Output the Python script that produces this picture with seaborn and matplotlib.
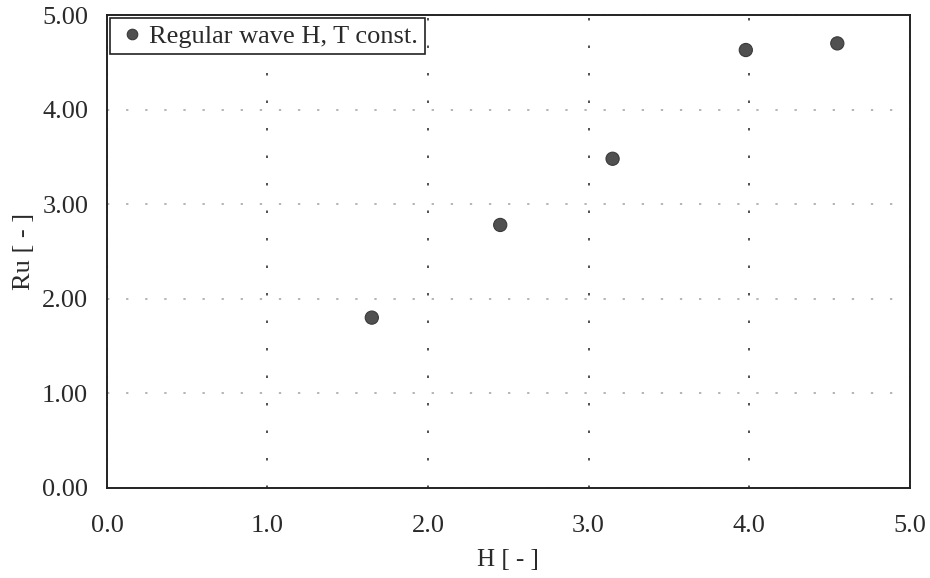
import matplotlib
matplotlib.use("Agg")
import matplotlib.pyplot as plt
import seaborn as sns
import pandas as pd

# Measured run-up versus wave height (regular waves, constant period)
wave_height = [1.65, 2.45, 3.15, 3.98, 4.55]
run_up = [1.80, 2.78, 3.48, 4.63, 4.70]
series_label = "Regular wave H, T const."

x_ticks = [0.0, 1.0, 2.0, 3.0, 4.0, 5.0]
y_ticks = [0.0, 1.0, 2.0, 3.0, 4.0, 5.0]

sns.set_style("white")
plt.rcParams["font.family"] = ["Liberation Serif", "DejaVu Serif"]

df = pd.DataFrame({"H": wave_height, "Ru": run_up, "series": series_label})

fig = plt.figure(figsize=(9.3, 5.78), dpi=100)
ax = fig.add_axes([0.115, 0.156, 0.863, 0.818])

sns.scatterplot(data=df, x="H", y="Ru", hue="series", palette=["#505050"],
                s=90, edgecolor="#3a3a3a", linewidth=0.8, ax=ax, zorder=3)

ax.set_xlim(0, 5)
ax.set_ylim(0, 5)
ax.set_xticks(x_ticks)
ax.set_yticks(y_ticks)
ax.set_xticklabels([f"{v:.1f}" for v in x_ticks])
ax.set_yticklabels([f"{v:.2f}" for v in y_ticks])

ax.xaxis.grid(True, linestyle=(0, (1.5, 15)), color="#333333", linewidth=1.2)
ax.yaxis.grid(True, linestyle=(0, (1.5, 11)), color="#a0a0a0", linewidth=1.1)

ax.tick_params(axis="both", direction="inout", length=9, width=1.0,
               labelsize=19, colors="#2a2a2a")
ax.tick_params(axis="x", pad=15)
ax.tick_params(axis="y", pad=9)
for side in ax.spines.values():
    side.set_color("#222222")
    side.set_linewidth(1.4)

ax.set_xlabel("H [ - ]", fontsize=18, color="#2a2a2a", labelpad=9)
ax.set_ylabel("Ru [ - ]", fontsize=19, color="#2a2a2a", labelpad=5)

leg = ax.legend(loc="upper left", fontsize=19, frameon=True, fancybox=False,
                borderpad=0.25, handletextpad=0.05, borderaxespad=0.1,
                markerscale=0.8, handlelength=1.2)
leg.get_frame().set_edgecolor("#222222")
leg.get_frame().set_linewidth(1.2)
leg.get_frame().set_alpha(1)
for t in leg.get_texts():
    t.set_color("#2a2a2a")

fig.savefig("out.png", dpi=100)
